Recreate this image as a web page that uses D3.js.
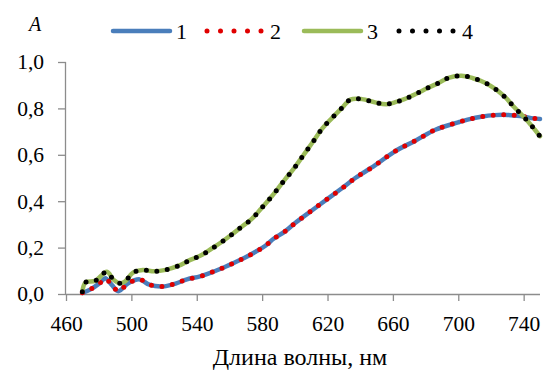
<!DOCTYPE html>
<html><head><meta charset="utf-8">
<script src="https://cdn.jsdelivr.net/npm/d3@7"></script>
<style>body{margin:0;background:#fff}svg{display:block}
svg text{font-family:"Liberation Serif","Times New Roman","DejaVu Serif","Noto Serif",serif !important;}</style>
</head><body>
<svg id="c" width="543" height="371"></svg>
<script>
const xTicks = [460, 500, 540, 580, 620, 660, 700, 740];
const yTicks = [0, 0.2, 0.4, 0.6, 0.8, 1.0];
const seriesNames = ["1", "2", "3", "4"];

const wl12 = [470,475,481,484,488,492,498,505,511,519,527,534,542,549,555,562,569,576,582,587,594,600,610,620,630,637,649,661,674,686,700,707,714,722,730,738,746,750];
const s1 = [0.005,0.02,0.049,0.068,0.039,0.012,0.046,0.063,0.04,0.032,0.045,0.063,0.076,0.093,0.11,0.132,0.155,0.182,0.208,0.238,0.27,0.305,0.358,0.41,0.462,0.5,0.554,0.614,0.662,0.708,0.74,0.754,0.764,0.771,0.772,0.767,0.757,0.754];
const s2 = [0.005,0.02,0.049,0.066,0.041,0.012,0.046,0.063,0.04,0.032,0.045,0.063,0.076,0.093,0.11,0.132,0.155,0.182,0.208,0.238,0.27,0.305,0.358,0.41,0.462,0.5,0.554,0.614,0.662,0.708,0.74,0.754,0.764,0.771,0.772,0.767,0.757,0.754];

const wl34 = [470,472,478,485,489,493,496,501,507,514,521,529,536,543,549,555,561,567,574,579,584,589,594,599,605,611,617,623,629,634,641,649,656,662,667,674,681,688,694,702,709,716,723,729,734,740,745,750];
const s3 = [0.01,0.05,0.057,0.096,0.062,0.046,0.053,0.092,0.103,0.098,0.104,0.122,0.147,0.168,0.195,0.223,0.254,0.287,0.326,0.365,0.405,0.448,0.494,0.537,0.596,0.655,0.715,0.76,0.803,0.838,0.84,0.826,0.818,0.828,0.84,0.862,0.887,0.91,0.932,0.941,0.93,0.912,0.882,0.846,0.807,0.764,0.724,0.68];
const s4 = [0.01,0.05,0.057,0.096,0.062,0.046,0.053,0.092,0.103,0.098,0.104,0.122,0.147,0.168,0.195,0.223,0.254,0.287,0.326,0.365,0.405,0.448,0.494,0.537,0.596,0.655,0.715,0.76,0.803,0.838,0.84,0.826,0.818,0.828,0.84,0.862,0.887,0.91,0.932,0.941,0.93,0.912,0.882,0.846,0.807,0.764,0.724,0.68];

const svg = d3.select("#c");
const x = d3.scaleLinear().domain([460, 750]).range([66, 540]);
const y = d3.scaleLinear().domain([0, 1]).range([294, 62]);
const axisColor = "#8c8c8c";

const ya = svg.append("g").attr("transform", "translate(66,0)")
  .call(d3.axisLeft(y).tickValues(yTicks).tickSize(8).tickPadding(14)
    .tickFormat(d => d3.format(".1f")(d).replace(".", ",")));
const xa = svg.append("g").attr("transform", "translate(0,294)")
  .call(d3.axisBottom(x).tickValues(xTicks).tickSize(7).tickPadding(15).tickFormat(d3.format("d")));
[ya, xa].forEach(g => {
  g.attr("font-family", null);
  g.select(".domain").attr("stroke", axisColor).attr("stroke-width", 1.3);
  g.selectAll(".tick line").attr("stroke", axisColor).attr("stroke-width", 1.3);
  g.selectAll("text").attr("font-size", 21.5).attr("fill", "#000");
});
ya.select(".domain").attr("d", "M-0.5,62V294.5");
xa.select(".domain").attr("d", "M66,0.5H540");

const line = d3.line().curve(d3.curveCatmullRom.alpha(0.5)).x(d => x(d[0])).y(d => y(d[1]));
const styles = [
  {wl: wl12, v: s1, color: "#4a7ebb", w: 4.5, dash: null},
  {wl: wl12, v: s2, color: "#e00000", w: 5, dash: "0,10.5"},
  {wl: wl34, v: s3, color: "#9bbb59", w: 4.5, dash: null},
  {wl: wl34, v: s4, color: "#000000", w: 5, dash: "0,10.5"}
];
styles.forEach(s => {
  svg.append("path").datum(s.wl.map((w, i) => [w, s.v[i]]))
    .attr("d", line).attr("fill", "none").attr("stroke", s.color)
    .attr("stroke-width", s.w).attr("stroke-linecap", "round").attr("stroke-linejoin", "round")
    .attr("stroke-dasharray", s.dash);
});

const legX = [113, 207, 304, 399];
styles.forEach((s, i) => {
  svg.append("line").attr("x1", legX[i]).attr("x2", legX[i] + 57).attr("y1", 31).attr("y2", 31)
    .attr("stroke", s.color).attr("stroke-width", s.w).attr("stroke-linecap", "round")
    .attr("stroke-dasharray", s.dash ? "0,13.5" : null);
  svg.append("text").attr("x", legX[i] + 63).attr("y", 39).text(seriesNames[i])
    .attr("font-size", 22);
});

svg.append("text").attr("x", 35).attr("y", 31).attr("text-anchor", "middle")
  .attr("font-size", 20).attr("font-style", "italic").text("A");
svg.append("text").attr("x", 300).attr("y", 365).attr("text-anchor", "middle")
  .attr("font-size", 24).text("Длина волны, нм");
</script>
</body></html>
